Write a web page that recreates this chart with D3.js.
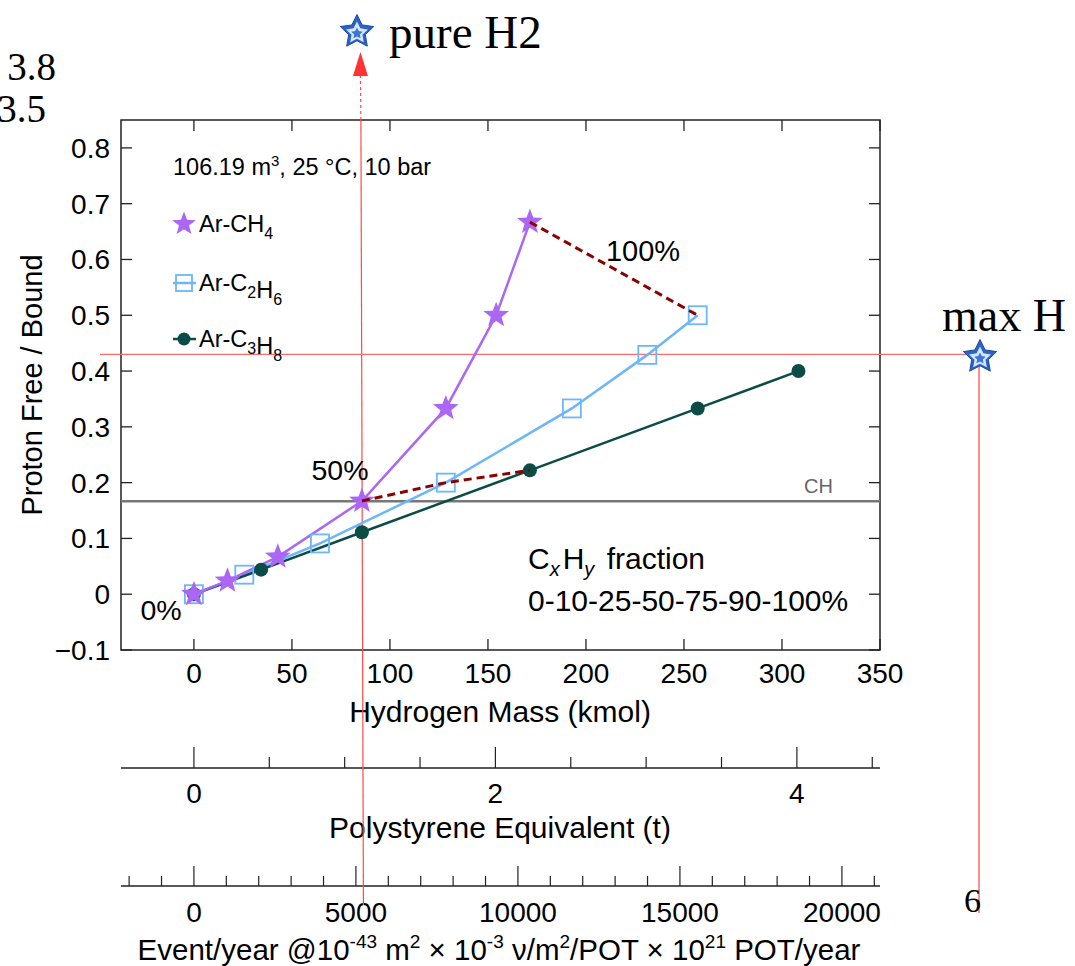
<!DOCTYPE html>
<html><head><meta charset="utf-8">
<script src="https://cdn.jsdelivr.net/npm/d3@7"></script>
<style>
body{margin:0;background:#fff}
svg{display:block}
text{font-family:"Liberation Sans",Arial,Helvetica,sans-serif;fill:#000}
.serif{font-family:"Liberation Serif","Times New Roman",serif}
</style>
</head><body>
<svg id="c" width="1075" height="966"></svg>
<script>
// ---------------- data ----------------
const fractionLabels = ["0%", "10%", "25%", "50%", "75%", "90%", "100%"];
const ch4X  = [0, 17.1, 42.8, 85.7, 128.5, 154.2, 171.4];
const ch4Y  = [0, 0.024, 0.067, 0.167, 0.333, 0.5, 0.667];
const c2h6X = [0, 25.7, 64.3, 128.5, 192.8, 231.3, 257.0];
const c2h6Y = [0, 0.035, 0.091, 0.2, 0.333, 0.429, 0.5];
const c3h8X = [0, 34.3, 85.7, 171.4, 257.0, 308.4];
const c3h8Y = [0, 0.044, 0.111, 0.222, 0.333, 0.4];
const line50X = [85.7, 128.5, 171.4];
const line50Y = [0.167, 0.2, 0.222];
const line100X = [171.4, 257.0];
const line100Y = [0.667, 0.5];
const yTicks = [-0.1, 0, 0.1, 0.2, 0.3, 0.4, 0.5, 0.6, 0.7, 0.8];
const xTicks = [0, 50, 100, 150, 200, 250, 300, 350];
const polyMajor = [0, 2, 4];
const polyMinor = [0.5, 1, 1.5, 2.5, 3, 3.5, 4.5];
const eventMajor = [0, 5000, 10000, 15000, 20000];
const eventMinor = [-2000, -1000, 1000, 2000, 3000, 4000, 6000, 7000, 8000, 9000, 11000, 12000, 13000, 14000, 16000, 17000, 18000, 19000, 21000];
const chLevel = 0.1667;
const maxHLevel = 0.43;
const pureH2Kmol = 85.7;
const kmolPerTonnePS = 76.9;
const eventsPerKmol = 60.5;
const xDomain = [-37.2, 350];
const yDomain = [-0.1, 0.85];

// ---------------- setup ----------------
const svg = d3.select("#c");
const L = 121, R = 880, T = 120, B = 650;
const x = d3.scaleLinear().domain(xDomain).range([L, R]);
const y = d3.scaleLinear().domain(yDomain).range([B, T]);
const xPoly = d3.scaleLinear().domain(xDomain.map(v => v / kmolPerTonnePS)).range([L, R]);
const xEvt = d3.scaleLinear().domain(xDomain.map(v => v * eventsPerKmol)).range([L, R]);

const cPurple = "#ac66f4", cBlue = "#6cb6fb", cGreen = "#0b4c47", cDash = "#8b0000", cRed = "#ff4a4a";

function starPath(cx, cy, Ro, ratio) {
  const pts = [];
  for (let i = 0; i < 10; i++) {
    const r = i % 2 === 0 ? Ro : Ro * ratio;
    const a = -Math.PI / 2 + i * Math.PI / 5;
    pts.push([cx + r * Math.cos(a), cy + r * Math.sin(a)]);
  }
  return "M" + pts.map(p => p.join(",")).join("L") + "Z";
}
function iconStar(cx, cy) {
  const g = svg.append("g");
  g.append("path").attr("d", starPath(cx, cy, 17.5, 0.5)).attr("fill", "#2b63c6").attr("stroke", "#1b4a9c").attr("stroke-width", 1);
  g.append("path").attr("d", starPath(cx, cy + 1, 11.5, 0.5)).attr("fill", "#d6e5fa");
  g.append("path").attr("d", starPath(cx, cy + 1.5, 6, 0.5)).attr("fill", "#3a78d8");
}

// ---------------- plot frame & CH line ----------------
svg.append("rect").attr("x", L).attr("y", T).attr("width", R - L).attr("height", B - T)
  .attr("fill", "none").attr("stroke", "#222").attr("stroke-width", 1.5);

svg.append("line").attr("x1", L).attr("x2", R).attr("y1", y(chLevel)).attr("y2", y(chLevel))
  .attr("stroke", "#777").attr("stroke-width", 2.5);
svg.append("text").attr("x", 804).attr("y", y(chLevel) - 8).attr("font-size", 20).style("fill", "#666").text("CH");

// inward ticks
const tl = 11;
yTicks.forEach(v => {
  svg.append("line").attr("x1", L).attr("x2", L + tl).attr("y1", y(v)).attr("y2", y(v)).attr("stroke", "#222").attr("stroke-width", 1.3);
  svg.append("line").attr("x1", R).attr("x2", R - tl).attr("y1", y(v)).attr("y2", y(v)).attr("stroke", "#222").attr("stroke-width", 1.3);
  svg.append("text").attr("x", 110).attr("y", y(v) + 10).attr("text-anchor", "end").attr("font-size", 28)
    .text(v < 0 ? "\u2212" + Math.abs(v) : String(v));
});
xTicks.forEach(v => {
  svg.append("line").attr("x1", x(v)).attr("x2", x(v)).attr("y1", B).attr("y2", B - tl).attr("stroke", "#222").attr("stroke-width", 1.3);
  svg.append("line").attr("x1", x(v)).attr("x2", x(v)).attr("y1", T).attr("y2", T + tl).attr("stroke", "#222").attr("stroke-width", 1.3);
  svg.append("text").attr("x", x(v)).attr("y", 683).attr("text-anchor", "middle").attr("font-size", 28).text(v);
});
svg.append("text").attr("x", 500).attr("y", 722).attr("text-anchor", "middle").attr("font-size", 30).text("Hydrogen Mass (kmol)");
svg.append("text").attr("transform", "translate(42,385) rotate(-90)").attr("text-anchor", "middle").attr("font-size", 29).text("Proton Free / Bound");

// ---------------- polystyrene axis ----------------
const pY = 768;
svg.append("line").attr("x1", L).attr("x2", R).attr("y1", pY).attr("y2", pY).attr("stroke", "#222").attr("stroke-width", 1.5);
polyMajor.forEach(v => {
  svg.append("line").attr("x1", xPoly(v)).attr("x2", xPoly(v)).attr("y1", pY).attr("y2", pY - 21).attr("stroke", "#222").attr("stroke-width", 1.2);
  svg.append("text").attr("x", xPoly(v)).attr("y", 803).attr("text-anchor", "middle").attr("font-size", 28).text(v);
});
polyMinor.forEach(v => {
  svg.append("line").attr("x1", xPoly(v)).attr("x2", xPoly(v)).attr("y1", pY).attr("y2", pY - 11).attr("stroke", "#222").attr("stroke-width", 1.2);
});
svg.append("text").attr("x", 500).attr("y", 838).attr("text-anchor", "middle").attr("font-size", 30).text("Polystyrene Equivalent (t)");

// ---------------- event axis ----------------
const eY = 886;
svg.append("line").attr("x1", L).attr("x2", R).attr("y1", eY).attr("y2", eY).attr("stroke", "#222").attr("stroke-width", 1.5);
eventMajor.forEach(v => {
  svg.append("line").attr("x1", xEvt(v)).attr("x2", xEvt(v)).attr("y1", eY).attr("y2", eY - 20).attr("stroke", "#222").attr("stroke-width", 1.2);
  svg.append("text").attr("x", xEvt(v)).attr("y", 922).attr("text-anchor", "middle").attr("font-size", 28).text(v);
});
eventMinor.forEach(v => {
  svg.append("line").attr("x1", xEvt(v)).attr("x2", xEvt(v)).attr("y1", eY).attr("y2", eY - 10).attr("stroke", "#222").attr("stroke-width", 1.2);
});
const et = svg.append("text").attr("x", 499).attr("y", 960).attr("text-anchor", "middle").attr("font-size", 29.5);
const sup = (t, s) => { et.append("tspan").attr("font-size", 19).attr("dy", -12).text(s); et.append("tspan").attr("dy", 12).text(t); };
et.append("tspan").text("Event/year @10"); sup(" m", "-43"); sup(" \u00d7 10", "2"); sup(" \u03bd/m", "-3"); sup("/POT \u00d7 10", "2"); sup(" POT/year", "21");

// ---------------- red overlay lines ----------------
const vx = x(pureH2Kmol);
svg.append("line").attr("x1", vx - 1.5).attr("x2", vx - 1).attr("y1", 75).attr("y2", T).attr("stroke", cRed).attr("stroke-width", 1.2).attr("stroke-dasharray", "3,3");
svg.append("line").attr("x1", vx - 1).attr("x2", vx + 1.5).attr("y1", T).attr("y2", 905).attr("stroke", cRed).attr("stroke-width", 1.2);
svg.append("path").attr("d", `M${vx - 1.5},52 L${vx - 9},76 L${vx + 6},76 Z`).attr("fill", "#ff3333");
svg.append("line").attr("x1", 100).attr("x2", 980).attr("y1", y(maxHLevel)).attr("y2", y(maxHLevel)).attr("stroke", "#ff6a6a").attr("stroke-width", 1.2);
svg.append("line").attr("x1", 979).attr("x2", 979).attr("y1", y(maxHLevel) + 10).attr("y2", 913).attr("stroke", "#ff6a6a").attr("stroke-width", 1.5);

// ---------------- series ----------------
const lineGen = d3.line().x(d => x(d[0])).y(d => y(d[1]));
const zip = (a, b) => a.map((v, i) => [v, b[i]]);
const ch4 = zip(ch4X, ch4Y), c2h6 = zip(c2h6X, c2h6Y), c3h8 = zip(c3h8X, c3h8Y);

svg.append("path").attr("d", lineGen(c2h6)).attr("fill", "none").attr("stroke", cBlue).attr("stroke-width", 2.5);
svg.append("path").attr("d", lineGen(c3h8)).attr("fill", "none").attr("stroke", cGreen).attr("stroke-width", 2.5);
svg.append("path").attr("d", lineGen(ch4)).attr("fill", "none").attr("stroke", cPurple).attr("stroke-width", 2.5);

c2h6.forEach(d => svg.append("rect").attr("x", x(d[0]) - 9).attr("y", y(d[1]) - 9).attr("width", 18).attr("height", 18)
  .attr("fill", "none").attr("stroke", cBlue).attr("stroke-width", 1.8));
c3h8.forEach(d => svg.append("circle").attr("cx", x(d[0])).attr("cy", y(d[1])).attr("r", 7).attr("fill", cGreen));
ch4.forEach(d => svg.append("path").attr("d", starPath(x(d[0]), y(d[1]), 13.5, 0.42)).attr("fill", cPurple));

svg.append("path").attr("d", lineGen(zip(line50X, line50Y))).attr("fill", "none").attr("stroke", cDash).attr("stroke-width", 3).attr("stroke-dasharray", "8,5");
svg.append("path").attr("d", lineGen(zip(line100X, line100Y))).attr("fill", "none").attr("stroke", cDash).attr("stroke-width", 3).attr("stroke-dasharray", "8,5");

// ---------------- annotations ----------------
const ann = svg.append("text").attr("x", 173).attr("y", 175).attr("font-size", 23.5);
ann.append("tspan").text("106.19 m");
ann.append("tspan").attr("font-size", 15).attr("dy", -9).text("3");
ann.append("tspan").attr("dy", 9).text(", 25 \u00b0C, 10 bar");

function legendLabel(yy, parts) {
  const t = svg.append("text").attr("x", 199).attr("y", yy + 8).attr("font-size", 23.5);
  parts.forEach(p => {
    if (p.sub) { t.append("tspan").attr("font-size", 16).attr("dy", 7).text(p.sub); t.append("tspan").attr("dy", -7).text(""); }
    else t.append("tspan").text(p.t);
  });
}
svg.append("path").attr("d", starPath(184, 224, 12.5, 0.42)).attr("fill", cPurple);
legendLabel(224, [{t: "Ar-CH"}, {sub: "4"}]);
svg.append("line").attr("x1", 173).attr("x2", 196).attr("y1", 283).attr("y2", 283).attr("stroke", cBlue).attr("stroke-width", 2.5);
svg.append("rect").attr("x", 176).attr("y", 275).attr("width", 16).attr("height", 16).attr("fill", "none").attr("stroke", cBlue).attr("stroke-width", 1.8);
legendLabel(283, [{t: "Ar-C"}, {sub: "2"}, {t: "H"}, {sub: "6"}]);
svg.append("line").attr("x1", 173).attr("x2", 196).attr("y1", 339).attr("y2", 339).attr("stroke", cGreen).attr("stroke-width", 2.5);
svg.append("circle").attr("cx", 184).attr("cy", 339).attr("r", 6.5).attr("fill", cGreen);
legendLabel(339, [{t: "Ar-C"}, {sub: "3"}, {t: "H"}, {sub: "8"}]);

svg.append("text").attr("x", 161).attr("y", 620).attr("text-anchor", "middle").attr("font-size", 28.5).text(fractionLabels[0]);
svg.append("text").attr("x", 340).attr("y", 480).attr("text-anchor", "middle").attr("font-size", 28.5).text(fractionLabels[3]);
svg.append("text").attr("x", 643).attr("y", 261).attr("text-anchor", "middle").attr("font-size", 29).text(fractionLabels[6]);

const fr = svg.append("text").attr("x", 528).attr("y", 569).attr("font-size", 30);
fr.append("tspan").text("C");
fr.append("tspan").attr("font-size", 20).attr("font-style", "italic").attr("dy", 7).text("x");
fr.append("tspan").attr("dx", 3).attr("dy", -7).text("H");
fr.append("tspan").attr("font-size", 20).attr("font-style", "italic").attr("dy", 7).text("y");
fr.append("tspan").attr("dx", 4).attr("dy", -7).text(" fraction");
svg.append("text").attr("x", 528).attr("y", 611).attr("font-size", 30).text(fractionLabels.map(s => s.replace("%", "")).join("-") + "%");

// serif annotations
iconStar(357, 32);
svg.append("text").attr("class", "serif").attr("x", 389).attr("y", 48).attr("font-size", 47).text("pure H2");
svg.append("text").attr("class", "serif").attr("x", 56).attr("y", 80).attr("text-anchor", "end").attr("font-size", 39).text("3.8");
svg.append("text").attr("class", "serif").attr("x", 46).attr("y", 122).attr("text-anchor", "end").attr("font-size", 39).text("3.5");
iconStar(980, 357);
svg.append("text").attr("class", "serif").attr("x", 942).attr("y", 331).attr("font-size", 46).text("max H");
svg.append("text").attr("class", "serif").attr("x", 981).attr("y", 912).attr("text-anchor", "end").attr("font-size", 34).text("6");
</script>
</body></html>
